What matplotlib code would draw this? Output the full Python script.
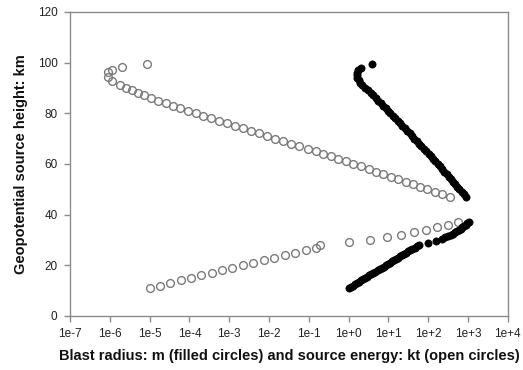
import numpy as np
import matplotlib
matplotlib.use("Agg")
import matplotlib.pyplot as plt

plt.rcParams['font.family'] = ['Liberation Sans', 'DejaVu Sans']

# Source energy (kt), open circles: upper branch and lower branch
energy_upper_h = [99.4, 98.2, 97.1, 96.2, 94.2, 92.9,
                  91, 90, 89, 88, 87, 86, 85, 84, 83, 82, 81, 80, 79, 78, 77, 76,
                  75, 74, 73, 72, 71, 70, 69, 68, 67, 66, 65, 64, 63, 62, 61, 60,
                  59, 58, 57, 56, 55, 54, 53, 52, 51, 50, 49, 48, 47]
energy_upper_kt = [8.7e-6, 2.0e-6, 1.15e-6, 9.1e-7, 9.1e-7, 1.1e-6,
                   1.8e-6, 2.6e-6, 3.5e-6, 5.0e-6, 7.2e-6, 1.07e-5, 1.6e-5, 2.5e-5,
                   3.9e-5, 5.9e-5, 9.3e-5, 1.45e-4, 2.2e-4, 3.5e-4, 5.6e-4, 8.9e-4,
                   1.4e-3, 2.2e-3, 3.5e-3, 5.6e-3, 8.9e-3, 1.45e-2, 2.3e-2, 3.6e-2,
                   5.8e-2, 9.3e-2, 0.148, 0.23, 0.35, 0.55, 0.85, 1.32,
                   2.0, 3.2, 4.9, 7.4, 11.5, 17.4, 27, 41, 62, 93, 145, 224, 355]

energy_lower_h = [11, 12, 13, 14, 15, 16, 17, 18, 19, 20, 21, 22, 23, 24, 25,
                  26, 27, 28, 29, 30, 31, 32, 33, 34, 35, 36, 37]
energy_lower_kt = [1.0e-5, 1.8e-5, 3.3e-5, 6.0e-5, 1.1e-4, 2.0e-4, 3.6e-4, 6.6e-4,
                   1.2e-3, 2.2e-3, 4.0e-3, 7.4e-3, 1.35e-2, 2.5e-2, 4.6e-2,
                   8.5e-2, 0.15, 0.19, 1.0, 3.4, 9.1, 21, 45, 89, 166, 316, 562]

# Blast radius (m), filled circles: upper branch and lower branch
radius_upper_h = [99.5, 98, 97, 96, 95, 94, 93, 92, 91, 90, 89, 88, 87, 86, 85,
                  84, 83, 82, 81, 80, 79, 78, 77, 76, 75, 74, 73, 72, 71, 70,
                  69, 68, 67, 66, 65, 64, 63, 62, 61, 60, 59, 58, 57, 56, 55,
                  54, 53, 52, 51, 50, 49, 48, 47]
radius_upper_m = [3.9, 2.04, 1.74, 1.62, 1.62, 1.66, 1.78, 1.95, 2.19, 2.57, 3.02,
                  3.55, 4.17, 4.79, 5.5, 6.46, 7.41, 8.51, 9.77, 11.2, 12.9,
                  14.8, 17.0, 19.5, 22.4, 25.7, 29.5, 33.9, 38.9, 44.7, 51.3,
                  58.9, 67.6, 77.6, 89.1, 102, 117, 132, 151, 174, 195, 224,
                  251, 288, 324, 372, 417, 479, 537, 603, 692, 776, 871]

radius_lower_h = [11, 11.5, 12, 12.5, 13, 13.5, 14, 14.5, 15, 15.5, 16, 16.5,
                  17, 17.5, 18, 18.5, 19, 19.5, 20, 20.5, 21, 21.5, 22, 22.5,
                  23, 23.5, 24, 24.5, 25, 25.5, 26, 26.5, 27, 27.5, 28,
                  28.8, 29.7, 30.5, 31, 31.5, 32, 32.5, 33, 33.5, 34, 34.5,
                  35, 35.5, 36, 36.5, 37]
radius_lower_m = [1.0, 1.13, 1.27, 1.43, 1.61, 1.82, 2.05, 2.31, 2.6, 2.93, 3.3,
                  3.72, 4.19, 4.72, 5.31, 5.98, 6.74, 7.59, 8.55, 9.63, 10.8,
                  12.2, 13.8, 15.5, 17.5, 19.7, 22.1, 24.9, 28.1, 31.6, 35.6,
                  40.1, 45.2, 50.9, 57.3,
                  100, 158, 224, 263, 309, 363, 417, 479, 537, 603, 661,
                  724, 794, 871, 955, 1050]

xtick_vals = [1e-7, 1e-6, 1e-5, 1e-4, 1e-3, 1e-2, 1e-1, 1e0, 1e1, 1e2, 1e3, 1e4]
xtick_labels = ['1e-7', '1e-6', '1e-5', '1e-4', '1e-3', '1e-2', '1e-1',
                '1e+0', '1e+1', '1e+2', '1e+3', '1e+4']
ytick_vals = [0, 20, 40, 60, 80, 100, 120]

fig = plt.figure(figsize=(5.23, 3.70), dpi=100)
ax = fig.add_axes([0.134, 0.146, 0.837, 0.822])

open_style = dict(marker='o', linestyle='none', markersize=5.6,
                  markerfacecolor='none', markeredgecolor='#7a7a7a',
                  markeredgewidth=1.0)
filled_style = dict(marker='o', linestyle='none', markersize=5.2,
                    markerfacecolor='black', markeredgecolor='black',
                    markeredgewidth=0.5)

ax.plot(energy_upper_kt, energy_upper_h, **open_style)
ax.plot(energy_lower_kt, energy_lower_h, **open_style)
ax.plot(radius_upper_m, radius_upper_h, **filled_style)
ax.plot(radius_lower_m, radius_lower_h, **filled_style)

ax.set_xscale('log')
ax.set_xlim(1e-7, 1e4)
ax.set_ylim(0, 120)
ax.set_xticks(xtick_vals)
ax.set_xticklabels(xtick_labels)
ax.xaxis.set_minor_locator(matplotlib.ticker.NullLocator())
ax.set_yticks(ytick_vals)

for s in ax.spines.values():
    s.set_color('#8c8c8c')
    s.set_linewidth(1.0)
ax.tick_params(direction='out', length=4, width=1.0, color='#8c8c8c',
               labelsize=8.5, labelcolor='#222222', pad=5)

ax.set_xlabel('Blast radius: m (filled circles) and source energy: kt (open circles)',
              fontsize=10.5, fontweight='bold', color='#111111', labelpad=6)
ax.set_ylabel('Geopotential source height: km', fontsize=10.5, fontweight='bold',
              color='#111111', labelpad=7)

plt.savefig('out.png', dpi=100)
